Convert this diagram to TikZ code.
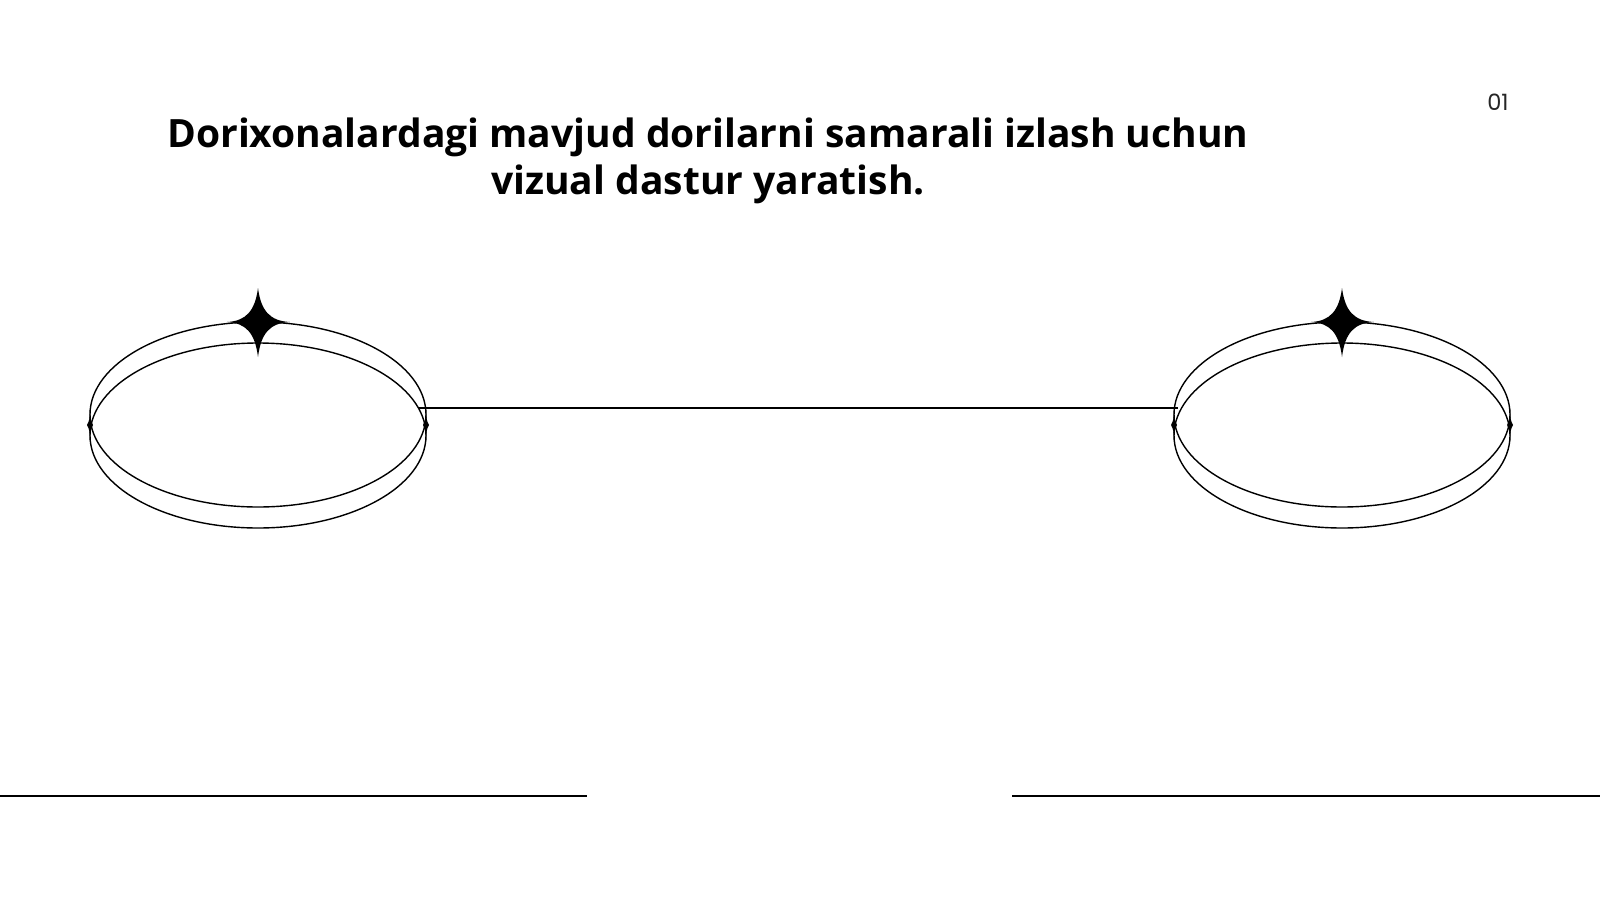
\documentclass[tikz,border=0pt]{standalone}
\usepackage{fontspec}
\setmainfont{Noto Sans}
\newfontfamily\titlefont{Open Sans}
\newfontfamily\numfont{Poppins}
\begin{document}
\begin{tikzpicture}[x=1pt,y=-1pt,
  ring/.style={draw=black,line width=1.4pt},
  rule/.style={draw=black,line width=1.5pt},
  sparkle/.style={fill=black},
  titletext/.style={font=\titlefont\bfseries\fontsize{39}{47}\selectfont,align=center,inner sep=0pt},
  pagenum/.style={font=\numfont\fontsize{22.5}{26}\selectfont,text=black!85,inner sep=0pt}]
\fill[white] (0,0) rectangle (1600,900);
\useasboundingbox (0,0) rectangle (1600,900);
\node[titletext] (title) at (708,161) {Dorixonalardagi mavjud dorilarni samarali izlash uchun\\vizual dastur yaratish.};
\node[pagenum] (num) at (1498,102) {01};
% rings
\foreach \cx/\nm in {258/L,1342/R}{
  \draw[ring] (\cx,414.5) ellipse [x radius=168pt, y radius=92.5pt];
  \draw[ring] (\cx,435.5) ellipse [x radius=168pt, y radius=92.5pt];
  % big sparkle
  \fill[sparkle] (\cx,288) .. controls (\cx+3,311) and (\cx+12,321) .. (\cx+32,322)
     .. controls (\cx+12,323) and (\cx+3,333) .. (\cx,357)
     .. controls (\cx-3,333) and (\cx-12,323) .. (\cx-31,322)
     .. controls (\cx-12,321) and (\cx-3,311) .. (\cx,288) -- cycle;
  % side joints
  \foreach \sx in {-168,168}{
    \fill[sparkle] (\cx+\sx,409) .. controls (\cx+\sx+0.5,420) .. (\cx+\sx+3,425)
       .. controls (\cx+\sx+0.5,430) .. (\cx+\sx,441)
       .. controls (\cx+\sx-0.5,430) .. (\cx+\sx-3,425)
       .. controls (\cx+\sx-0.5,420) .. (\cx+\sx,409) -- cycle;
  }
}
\coordinate (la) at (418,408);
\coordinate (rb) at (1178,408);
\draw[rule,line width=1.4pt] (la) -- (rb);
\coordinate (b1) at (0,796);
\coordinate (b2) at (587,796);
\coordinate (b3) at (1012,796);
\coordinate (b4) at (1600,796);
\draw[rule] (b1) -- (b2);
\draw[rule] (b3) -- (b4);
\end{tikzpicture}
\end{document}
